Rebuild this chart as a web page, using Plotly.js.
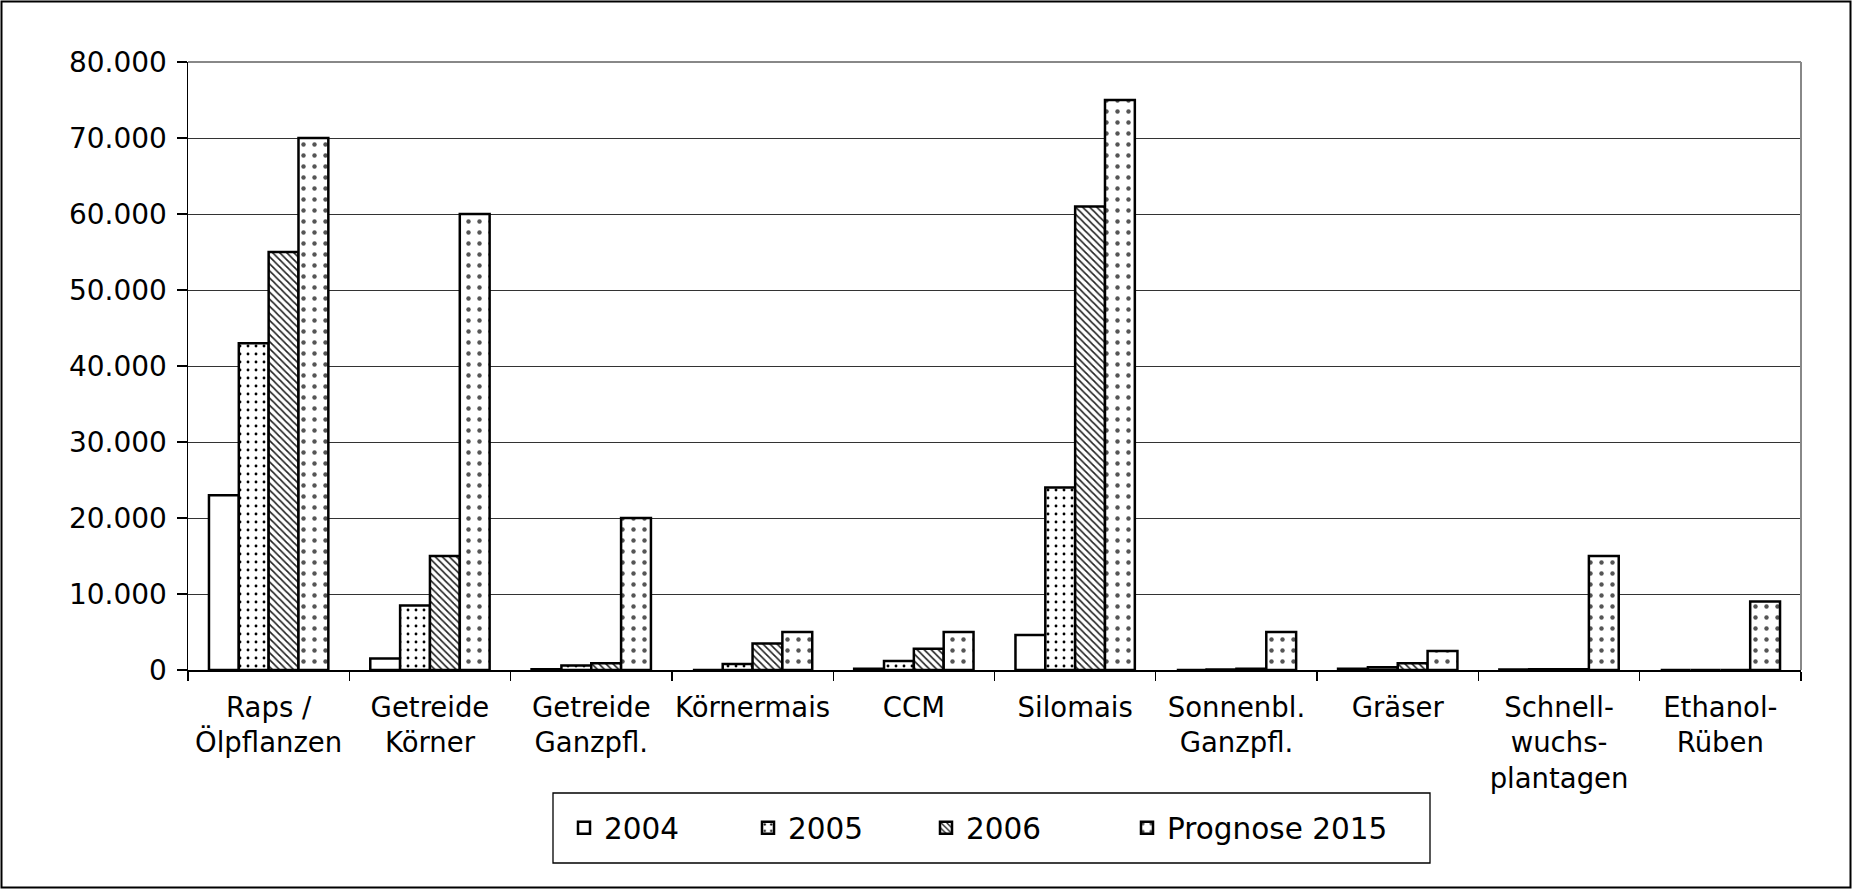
<!DOCTYPE html>
<html>
<head>
<meta charset="utf-8">
<script src="https://cdn.plot.ly/plotly-3.0.1.min.js"></script>
<style>
  html, body { margin: 0; padding: 0; background: #fff; }
  #chart { position: absolute; left: 0; top: 0; width: 1854px; height: 890px; }
</style>
</head>
<body>
<div id="chart"></div>
<script>
const categories = [
  "Raps /<br>Ölpflanzen", "Getreide<br>Körner", "Getreide<br>Ganzpfl.", "Körnermais", "CCM",
  "Silomais", "Sonnenbl.<br>Ganzpfl.", "Gräser", "Schnell-<br>wuchs-<br>plantagen", "Ethanol-<br>Rüben"
];
const seriesNames = ["2004", "2005", "2006", "Prognose 2015"];
const v2004 = [23000, 1500, 100, 0, 150, 4600, 0, 150, 50, 0];
const v2005 = [43000, 8500, 600, 800, 1200, 24000, 50, 350, 100, 0];
const v2006 = [55000, 15000, 900, 3500, 2800, 61000, 150, 900, 100, 0];
const v2015 = [70000, 60000, 20000, 5000, 5000, 75000, 5000, 2500, 15000, 9000];
const yTicks = [0, 10000, 20000, 30000, 40000, 50000, 60000, 70000, 80000];

const W = 1854, H = 890;
const mL = 188, mR = 53, mT = 62, mB = 220;
const pw = W - mL - mR, ph = H - mT - mB;
const px = x => (x - mL) / pw;
const py = y => (H - mB - y) / ph;

const FONT = "DejaVu Sans, Verdana, sans-serif";
const line = { color: "#000", width: 2.5 };
const patterns = [
  { shape: "" },
  { shape: ".", fgcolor: "#000", bgcolor: "#fff", size: 8, solidity: 0.1 },
  { shape: "\\", fgcolor: "#222", bgcolor: "#fff", size: 5, solidity: 0.33 },
  { shape: ".", fgcolor: "#555", bgcolor: "#fff", size: 11, solidity: 0.13 }
];
const values = [v2004, v2005, v2006, v2015];
const legendIds = ["legend", "legend2", "legend3", "legend4"];
const legendTextX = [605, 789, 967, 1168];

const traces = values.map((vals, i) => ({
  type: "bar",
  name: seriesNames[i],
  x: categories,
  y: vals,
  legend: legendIds[i],
  marker: { color: "#fff", line: line, pattern: patterns[i] },
  hoverinfo: "skip"
}));

const layout = {
  width: W, height: H,
  margin: { l: mL, r: mR, t: mT, b: mB, pad: 0 },
  paper_bgcolor: "#fff", plot_bgcolor: "#fff",
  separators: ",.",
  barmode: "group", bargap: 0.26, bargroupgap: 0,
  font: { family: FONT, color: "#000", size: 28 },
  showlegend: true,
  xaxis: {
    type: "category", tickson: "boundaries", ticks: "outside", ticklen: 9, tickwidth: 1.3, tickcolor: "#000",
    showline: true, linecolor: "#000", linewidth: 1.5, showgrid: false, zeroline: false,
    tickangle: 0, automargin: false,
    tickfont: { family: FONT, size: 27.5, color: "#000" }, ticklabelstandoff: 12,
    fixedrange: true
  },
  yaxis: {
    range: [0, 80000], tickvals: yTicks, tickformat: ",d", ticks: "outside", ticklen: 10, tickwidth: 1.3, tickcolor: "#000",
    showline: true, linecolor: "#000", linewidth: 1.5, showgrid: true, gridcolor: "#333", gridwidth: 1,
    zeroline: false, tickfont: { family: FONT, size: 28, color: "#000" }, ticklabelstandoff: 4,
    automargin: false, fixedrange: true
  },
  shapes: [
    { type: "line", xref: "paper", yref: "paper", x0: 0, x1: 1, y0: 1, y1: 1, line: { color: "#888", width: 2 } },
    { type: "line", xref: "paper", yref: "paper", x0: 1, x1: 1, y0: 0, y1: 1, line: { color: "#888", width: 2 } },
    { type: "rect", xref: "paper", yref: "paper", x0: px(553), x1: px(1430), y0: py(793), y1: py(863), line: { color: "#000", width: 1.3 } },
    { type: "rect", xref: "paper", yref: "paper", x0: px(1.5), x1: px(1850.5), y0: py(1.5), y1: py(887.5), line: { color: "#000", width: 2 } }
  ]
};
legendIds.forEach((id, i) => {
  layout[id] = {
    orientation: "h", x: px(legendTextX[i] - 41), xanchor: "left", y: py(828), yanchor: "middle",
    font: { family: FONT, size: 29.5, color: "#000" },
    bgcolor: "rgba(0,0,0,0)", borderwidth: 0
  };
});

Plotly.newPlot("chart", traces, layout, { displayModeBar: false, staticPlot: true });
</script>
</body>
</html>
